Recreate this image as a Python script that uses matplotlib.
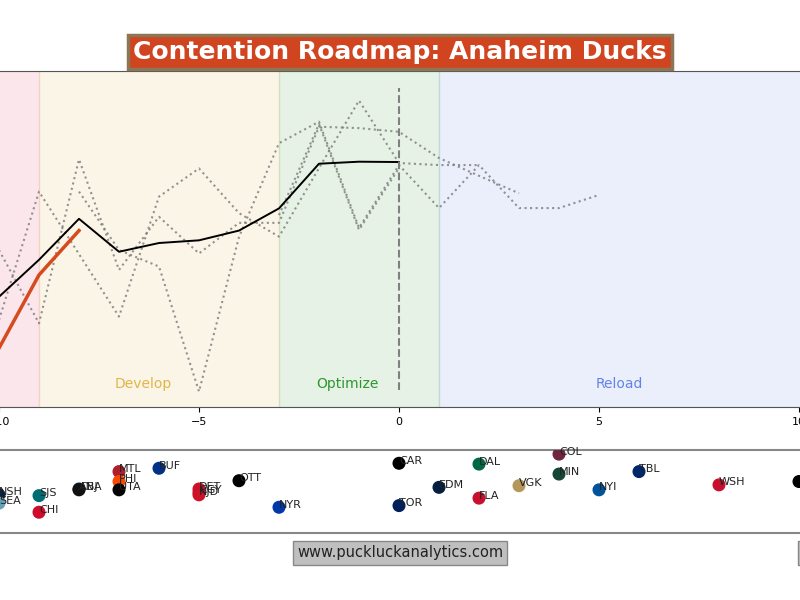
import numpy as np
import matplotlib
matplotlib.use("Agg")
import matplotlib.pyplot as plt

# years relative to contention season (0 = contention)
ana_x = [-10, -9, -8]
ana_y = [17.5, 39.3, 52.5]

avg_x = [-10, -9, -8, -7, -6, -5, -4, -3, -2, -1, 0]
avg_y = [32.8, 43.8, 56.0, 46.2, 48.8, 49.6, 52.5, 59.1, 72.4, 73.0, 72.9]

# comparable teams' paths (dotted)
comp_a_x = [-8, -7, -6, -5, -4, -3, -2, -1, 0, 1, 2, 3, 4, 5]
comp_a_y = [64.1, 46.7, 41.8, 4.6, 50.6, 78.5, 84.9, 53.3, 72.0, 59.2, 72.0, 59.2, 59.2, 63.1]
comp_b_x = [-10, -9, -8, -7, -6, -5, -4, -3, -2, -1, 0, 1, 2]
comp_b_y = [25.9, 64.1, 45.5, 26.9, 62.6, 71.0, 57.7, 50.7, 71.1, 91.2, 72.6, 72.0, 72.0]
comp_c_x = [-10, -9, -8, -7, -6, -5, -4, -3, -2, -1, 0, 1, 2, 3]
comp_c_y = [46.7, 24.9, 73.7, 40.8, 56.6, 45.7, 54.8, 54.8, 83.4, 83.0, 81.9, 74.1, 68.8, 63.6]
comp_d_x = [-3, -2, -1, 0]
comp_d_y = [57.1, 84.2, 52.7, 71.1]

phases = ["Develop", "Optimize", "Reload"]
phase_label_x = [-6.4, -1.3, 5.5]

# teams by years from contention
teams = ["NSH", "SEA", "SJS", "CHI", "CBJ", "ANA", "MTL", "PHI", "UTA", "BUF",
         "DET", "CGY", "NJD", "OTT", "NYR", "CAR", "TOR", "EDM", "DAL", "FLA",
         "VGK", "COL", "MIN", "NYI", "TBL", "WSH", "PIT"]
team_x = [-10, -10, -9, -9, -8, -8, -7, -7, -7, -6,
          -5, -5, -5, -4, -3, 0, 0, 1, 2, 2,
          3, 4, 4, 5, 6, 8, 10]
team_y = [0.46, 0.36, 0.45, 0.25, 0.53, 0.52, 0.74, 0.62, 0.52, 0.78,
          0.53, 0.49, 0.46, 0.63, 0.31, 0.84, 0.33, 0.55, 0.83, 0.42,
          0.57, 0.95, 0.71, 0.52, 0.74, 0.58, 0.62]
team_colors = ["#041E42", "#68A2B9", "#006D75", "#CF0A2C", "#002654", "#111111",
               "#AF1E2D", "#F74902", "#010101", "#003087",
               "#CE1126", "#C8102E", "#CE1126", "#000000", "#0038A8", "#000000",
               "#00205B", "#041E42", "#006847", "#C8102E",
               "#B4975A", "#6F263D", "#154734", "#00539B", "#002868", "#C8102E",
               "#000000"]

fig = plt.figure(figsize=(8, 6), dpi=100)

xmin, xmax = -11, 11
ax = fig.add_axes([-0.05125, 0.3217, 1.1, 0.56])
ax.set_xlim(xmin, xmax)
ax.set_ylim(0, 100)

ax.axvspan(xmin, -9, color="crimson", alpha=0.1)
ax.axvspan(-9, -3, color="goldenrod", alpha=0.1)
ax.axvspan(-3, 1, color="green", alpha=0.1)
ax.axvspan(1, xmax, color="royalblue", alpha=0.1)

for name, px, c in zip(phases, phase_label_x, ["goldenrod", "green", "royalblue"]):
    ax.text(px, 6.8, name, color=c, alpha=0.8, ha="center", va="center", fontsize=10)

for xs, ys in [(comp_a_x, comp_a_y), (comp_b_x, comp_b_y),
               (comp_c_x, comp_c_y), (comp_d_x, comp_d_y)]:
    ax.plot(xs, ys, color="gray", linestyle=":", linewidth=1.5, alpha=0.85)

ax.plot(avg_x, avg_y, color="black", linewidth=1.4)
ax.plot(ana_x, ana_y, color="#D64A1E", linewidth=2.5)
ax.vlines(0, 5, 95, colors="gray", linestyles="--", linewidth=1.5)

ax.set_xticks([-10, -5, 0, 5, 10])
ax.tick_params(axis="x", labelsize=8)
ax.set_yticks([])
for s in ax.spines.values():
    s.set_color("#555555")

fig.text(0.5, 1 - 52 / 600, "Contention Roadmap: Anaheim Ducks", ha="center", va="center",
         fontsize=18, fontweight="bold", color="white",
         bbox=dict(boxstyle="square,pad=0.2", facecolor="#D0451F", edgecolor="#8B7755", linewidth=2.5))

# team strip
ax2 = fig.add_axes([-0.05125, 0.1117, 1.1, 0.1383])
ax2.set_xlim(xmin, xmax)
ax2.set_ylim(0, 1)
ax2.scatter(team_x, team_y, s=70, c=team_colors, zorder=3)
for t, tx, ty in zip(teams, team_x, team_y):
    ax2.text(tx, ty + 0.03, t, fontsize=8, color="#222222", ha="left", va="center")
ax2.set_xticks([])
ax2.set_yticks([])
for s in ax2.spines.values():
    s.set_color("#888888")
    s.set_linewidth(1.5)

fig.text(0.5, 1 - 553 / 600, "www.puckluckanalytics.com", ha="center", va="center", fontsize=10.5,
         color="#222222", bbox=dict(boxstyle="square,pad=0.3", facecolor="#BFBFBF", edgecolor="#888888"))
fig.text(1.003, 1 - 553 / 600, "Data: NHL", ha="left", va="center", fontsize=10.5,
         color="#222222", bbox=dict(boxstyle="square,pad=0.3", facecolor="#BFBFBF", edgecolor="#888888"))

fig.savefig("out.png", dpi=100)
